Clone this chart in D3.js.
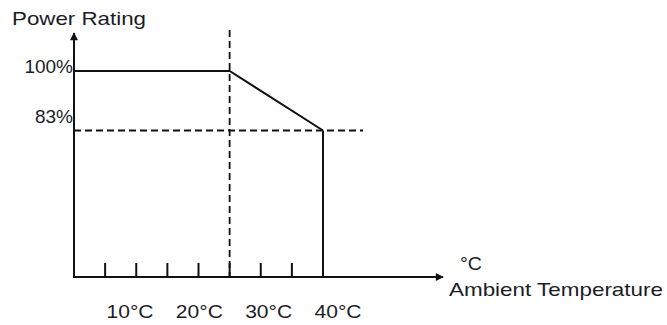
<!DOCTYPE html>
<html>
<head>
<meta charset="utf-8">
<script src="https://cdn.jsdelivr.net/npm/d3@7"></script>
<style>
  html, body { margin: 0; padding: 0; background: #fff; }
  text { font-family: "Liberation Sans", Arial, sans-serif; font-size: 19px; fill: #1c1c28; }
</style>
</head>
<body>
<script>
// derating curve: temperature (°C) vs power rating (%)
const curveTemp = [0, 25, 40];
const curveRating = [100, 100, 83];
const tickTemps = [5, 10, 15, 20, 25, 30, 35, 40];
const tickLabels = ["10°C", "20°C", "30°C", "40°C"];
const ratingLabels = [100, 83];
const kneeTemp = 25;
const cutoffTemp = 40;

const width = 667;
const height = 325;

const originX = 74;
const baseY = 277;
const axisTopY = 33;
const axisRightX = 443;

const svg = d3.select("body")
  .append("svg")
  .attr("xmlns", "http://www.w3.org/2000/svg")
  .attr("width", width)
  .attr("height", height);

svg.append("rect")
  .attr("width", "100%")
  .attr("height", "100%")
  .attr("fill", "white");

const x = d3.scaleLinear().domain([0, 40]).range([originX, 323]);
const y = d3.scaleLinear().domain([83, 100]).range([130.5, 71]);
const labelX = d3.scalePoint().domain(tickLabels).range([130, 338]);

// arrowheads
const defs = svg.append("defs");
defs.append("marker")
  .attr("id", "arrow")
  .attr("viewBox", "0 0 10 10")
  .attr("refX", 9)
  .attr("refY", 5)
  .attr("markerWidth", 9)
  .attr("markerHeight", 8)
  .attr("markerUnits", "userSpaceOnUse")
  .attr("orient", "auto")
  .append("path")
  .attr("d", "M0,0 L10,5 L0,10 Z")
  .attr("fill", "#111");

// dashed guides
svg.append("line")
  .attr("x1", x(kneeTemp)).attr("x2", x(kneeTemp))
  .attr("y1", 30).attr("y2", baseY)
  .attr("stroke", "#111")
  .attr("stroke-width", 1.8)
  .attr("stroke-dasharray", "7,4");

svg.append("line")
  .attr("x1", originX).attr("x2", x(cutoffTemp) + 40)
  .attr("y1", y(83)).attr("y2", y(83))
  .attr("stroke", "#111")
  .attr("stroke-width", 1.8)
  .attr("stroke-dasharray", "7,4");

// axes
svg.append("line")
  .attr("x1", originX).attr("x2", originX)
  .attr("y1", baseY + 1).attr("y2", axisTopY)
  .attr("stroke", "#111")
  .attr("stroke-width", 2)
  .attr("marker-end", "url(#arrow)");

svg.append("line")
  .attr("x1", originX - 1).attr("x2", axisRightX)
  .attr("y1", baseY).attr("y2", baseY)
  .attr("stroke", "#111")
  .attr("stroke-width", 2)
  .attr("marker-end", "url(#arrow)");

svg.selectAll(".tick")
  .data(tickTemps)
  .join("line")
  .attr("class", "tick")
  .attr("x1", d => x(d)).attr("x2", d => x(d))
  .attr("y1", baseY - 14).attr("y2", baseY)
  .attr("stroke", "#111")
  .attr("stroke-width", 2);

// curve
const pts = curveTemp.map((t, i) => [t, curveRating[i]]);
svg.append("path")
  .datum(pts)
  .attr("fill", "none")
  .attr("stroke", "#111")
  .attr("stroke-width", 2)
  .attr("d", d3.line().x(d => x(d[0])).y(d => y(d[1])));

// cutoff drop
svg.append("line")
  .attr("x1", x(cutoffTemp)).attr("x2", x(cutoffTemp))
  .attr("y1", y(83)).attr("y2", baseY)
  .attr("stroke", "#111")
  .attr("stroke-width", 2);

// texts
svg.append("text")
  .attr("x", 12).attr("y", 25)
  .attr("textLength", 134)
  .attr("lengthAdjust", "spacingAndGlyphs")
  .text("Power Rating");

svg.selectAll(".rlab")
  .data(ratingLabels)
  .join("text")
  .attr("class", "rlab")
  .attr("x", originX - 1)
  .attr("y", d => d === 100 ? y(d) + 2 : y(d) - 7.5)
  .attr("text-anchor", "end")
  .text(d => d + "%");

svg.selectAll(".xlab")
  .data(tickLabels)
  .join("text")
  .attr("class", "xlab")
  .attr("x", d => labelX(d))
  .attr("y", 318)
  .attr("text-anchor", "middle")
  .attr("textLength", 47)
  .attr("lengthAdjust", "spacingAndGlyphs")
  .text(d => d);

svg.append("text")
  .attr("x", 460).attr("y", 270)
  .attr("textLength", 22)
  .attr("lengthAdjust", "spacingAndGlyphs")
  .text("°C");

svg.append("text")
  .attr("x", 449).attr("y", 296)
  .attr("textLength", 214)
  .attr("lengthAdjust", "spacingAndGlyphs")
  .text("Ambient Temperature");
</script>
</body>
</html>
